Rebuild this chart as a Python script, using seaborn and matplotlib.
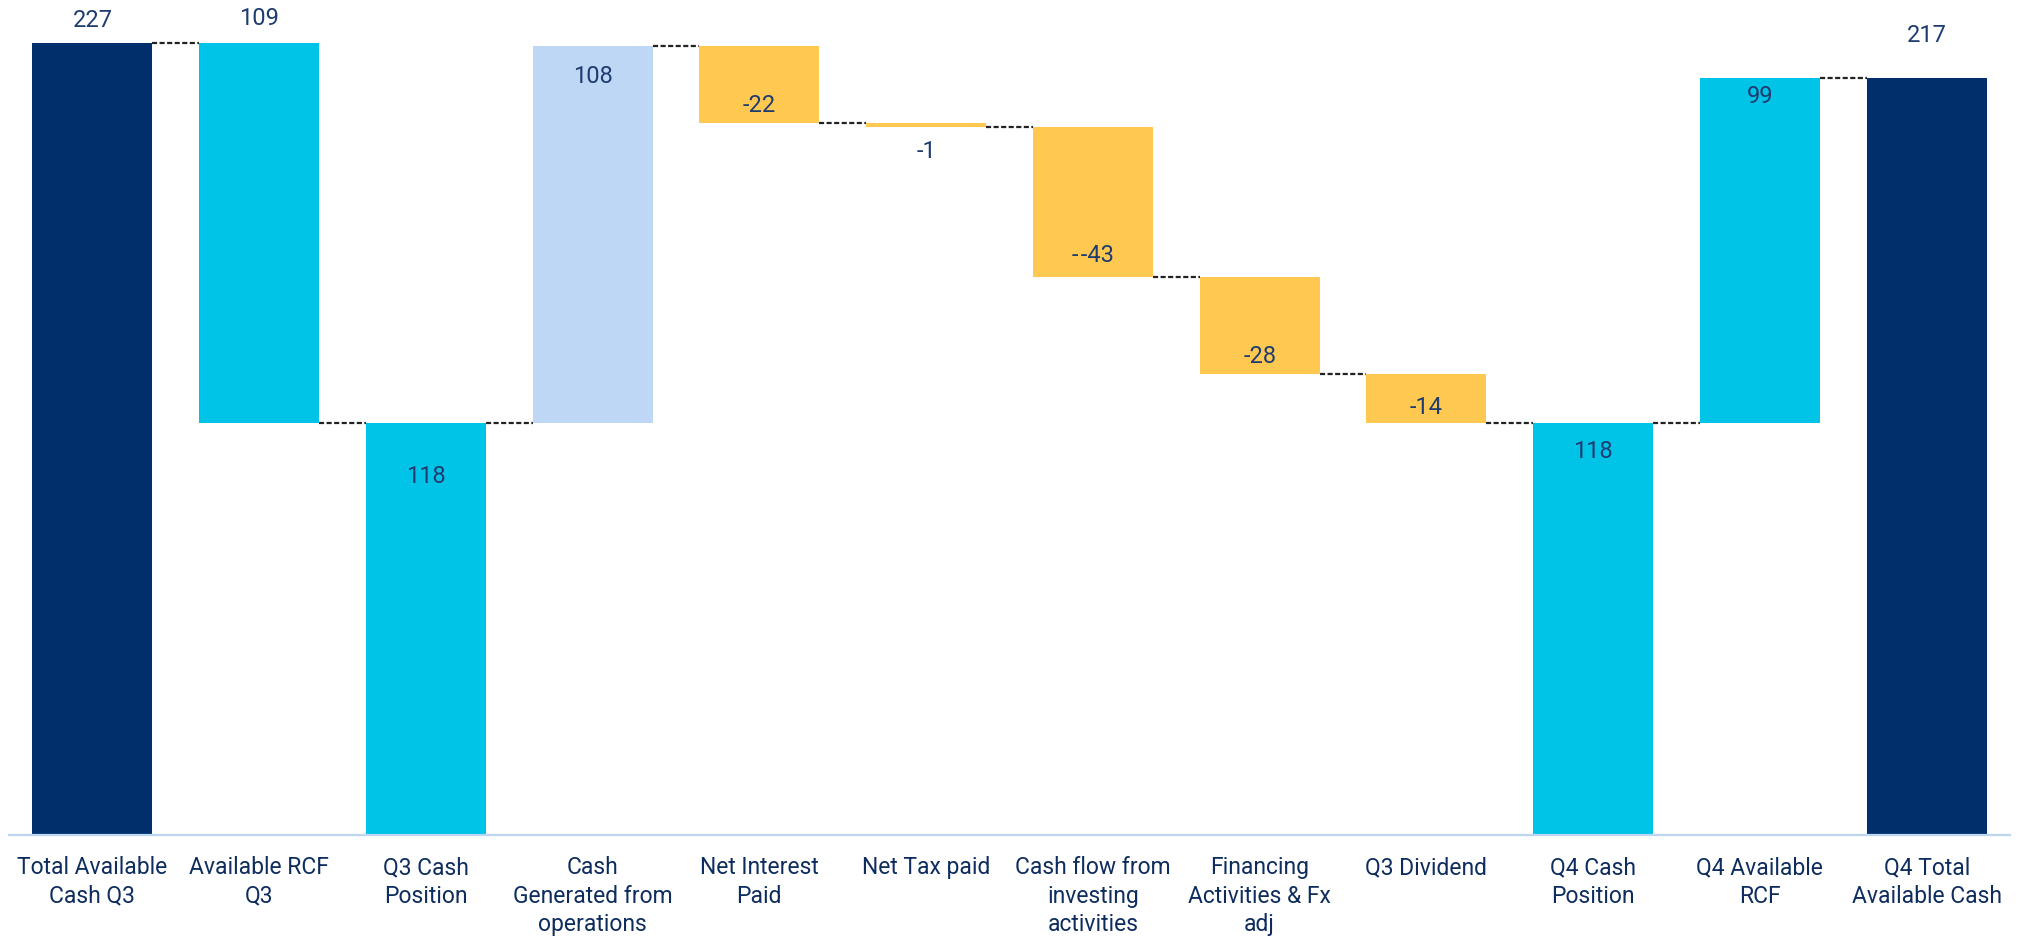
import matplotlib
matplotlib.use("Agg")
import matplotlib.pyplot as plt
import seaborn as sns
import numpy as np
import pandas as pd

# ---- data ----
categories = [
    "Total Available\nCash Q3", "Available RCF\nQ3", "Q3 Cash\nPosition",
    "Cash\nGenerated from\noperations", "Net Interest\nPaid", "Net Tax paid",
    "Cash flow from\ninvesting\nactivities", "Financing\nActivities & Fx\nadj",
    "Q3 Dividend", "Q4 Cash\nPosition", "Q4 Available\nRCF",
    "Q4 Total\nAvailable Cash",
]
values = [227, -109, 118, 108, -22, -1, -43, -28, -14, 118, 99, 217]
kinds = ["total", "delta", "total", "delta", "delta", "delta", "delta",
         "delta", "delta", "total", "delta", "total"]
label_texts = ["227", "109", "118", "108", "-22", "-1", "-\u200a-43", "-28", "-14",
               "118", "99", "217"]

# ---- compute floating bars ----
bottoms, tops = [], []
running = 0
for v, k in zip(values, kinds):
    if k == "total":
        b, t = 0, v
        running = v
    else:
        start = running
        running = running + v
        b, t = min(start, running), max(start, running)
    bottoms.append(b)
    tops.append(t)
heights = [t - b for t, b in zip(tops, bottoms)]

# ---- styles ----
NAVY = "#002F6C"
CYAN = "#00C3E8"
LIGHT = "#BDD7F4"
YELLOW = "#FFC850"
TEXT = "#1F3C70"
bar_colors = [NAVY, CYAN, CYAN, LIGHT, YELLOW, YELLOW, YELLOW, YELLOW, YELLOW,
              CYAN, CYAN, NAVY]
# label placement: (anchor edge, pixel offset of label centre from that edge)
label_place = [("top", 22), ("top", 24), ("top", -53), ("top", -30),
               ("bottom", 18), ("bottom", -25), ("bottom", 21), ("bottom", 18),
               ("bottom", 16), ("top", -28), ("top", -19), ("top", 42)]

sns.set_theme(style="white")
plt.rcParams["font.family"] = ["Roboto", "DejaVu Sans"]

DPI = 100
fig = plt.figure(figsize=(20.20, 9.38), dpi=DPI)
ax = fig.add_axes([9 / 2020, 103 / 938, 2001 / 2020, 835 / 938])

df = pd.DataFrame({"cat": categories, "h": heights})
sns.barplot(data=df, x="cat", y="h", bottom=bottoms, width=0.72,
            color=NAVY, ax=ax, saturation=1, linewidth=0)
for p, c in zip(ax.patches, bar_colors):
    p.set_facecolor(c)
    p.set_edgecolor("none")

ax.set_xlim(-0.5, 11.5)
ax.set_ylim(0, 239.3)

# connectors
half = 0.36
for i in range(len(values) - 1):
    k = kinds[i]
    if kinds[i + 1] == "total":
        level = tops[i + 1]
    else:
        if k == "total":
            level = tops[i]
        else:
            level = bottoms[i] if values[i] < 0 else tops[i]
    ax.plot([i + half, i + 1 - half], [level, level], color="#222222",
            lw=1.6, linestyle=(0, (2.3, 1.1)), solid_capstyle="butt",
            dash_capstyle="butt")

# value labels
px_per_unit = 792 / 227.0
for i, (lab, (edge, off)) in enumerate(zip(label_texts, label_place)):
    base = tops[i] if edge == "top" else bottoms[i]
    y = base + off / px_per_unit
    ax.text(i, y, lab, ha="center", va="center", fontsize=17, color=TEXT)

# axes styling
for s in ["top", "right", "left"]:
    ax.spines[s].set_visible(False)
ax.spines["bottom"].set_color("#BDD7F2")
ax.spines["bottom"].set_linewidth(1.6)
ax.set_yticks([])
ax.set_xlabel("")
ax.set_ylabel("")
ax.tick_params(axis="x", length=0, pad=15, labelsize=16.5, labelcolor="#0E2D5E")
for t in ax.get_xticklabels():
    t.set_linespacing(1.32)
    t.set_ha("center")

fig.savefig("out.png", dpi=DPI)
